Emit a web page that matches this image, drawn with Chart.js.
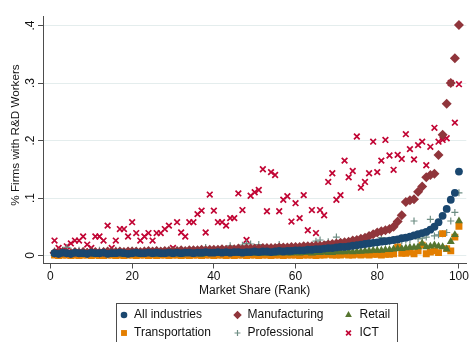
<!DOCTYPE html>
<html>
<head>
<meta charset="utf-8">
<script src="https://cdn.jsdelivr.net/npm/chart.js@4.4.1/dist/chart.umd.min.js"></script>
<style>
  html, body { margin: 0; padding: 0; background: #fff; overflow: hidden; }
  canvas { display: block; }
</style>
</head>
<body>
<canvas id="chart" width="472" height="342"></canvas>
<script>
// Market-share rank of the firm within its industry (x axis)
const ranks = [
  1, 2, 3, 4, 5, 6, 7, 8, 9, 10, 11, 12, 13, 14, 15, 16, 17, 18, 19, 20,
  21, 22, 23, 24, 25, 26, 27, 28, 29, 30, 31, 32, 33, 34, 35, 36, 37, 38, 39, 40,
  41, 42, 43, 44, 45, 46, 47, 48, 49, 50, 51, 52, 53, 54, 55, 56, 57, 58, 59, 60,
  61, 62, 63, 64, 65, 66, 67, 68, 69, 70, 71, 72, 73, 74, 75, 76, 77, 78, 79, 80,
  81, 82, 83, 84, 85, 86, 87, 88, 89, 90, 91, 92, 93, 94, 95, 96, 97, 98, 99, 100
];

// Share of firms employing R&D workers, by rank
const allIndustries = [
  0.004, 0.003, 0.005, 0.004, 0.003, 0.005, 0.004, 0.004, 0.003, 0.005,
  0.004, 0.004, 0.005, 0.003, 0.004, 0.004, 0.005, 0.004, 0.003, 0.004,
  0.005, 0.004, 0.004, 0.005, 0.004, 0.005, 0.004, 0.004, 0.005, 0.004,
  0.005, 0.004, 0.005, 0.005, 0.004, 0.005, 0.005, 0.006, 0.005, 0.005,
  0.006, 0.005, 0.006, 0.005, 0.006, 0.006, 0.005, 0.006, 0.006, 0.007,
  0.006, 0.007, 0.007, 0.006, 0.007, 0.008, 0.007, 0.008, 0.008, 0.009,
  0.009, 0.009, 0.010, 0.010, 0.011, 0.011, 0.012, 0.013, 0.013, 0.014,
  0.015, 0.015, 0.016, 0.017, 0.018, 0.019, 0.020, 0.021, 0.022, 0.023,
  0.024, 0.025, 0.026, 0.027, 0.028, 0.030, 0.031, 0.033, 0.035, 0.037,
  0.039, 0.041, 0.045, 0.050, 0.058, 0.069, 0.081, 0.097, 0.109, 0.146
];

const manufacturing = [
  0.005, 0.004, 0.006, 0.005, 0.004, 0.006, 0.005, 0.006, 0.005, 0.006,
  0.006, 0.005, 0.006, 0.007, 0.006, 0.006, 0.007, 0.006, 0.007, 0.007,
  0.007, 0.006, 0.007, 0.008, 0.007, 0.008, 0.007, 0.008, 0.008, 0.008,
  0.008, 0.009, 0.008, 0.009, 0.009, 0.009, 0.010, 0.009, 0.010, 0.010,
  0.010, 0.011, 0.010, 0.011, 0.011, 0.012, 0.011, 0.012, 0.012, 0.012,
  0.012, 0.013, 0.013, 0.013, 0.013, 0.014, 0.014, 0.014, 0.015, 0.015,
  0.015, 0.016, 0.016, 0.016, 0.017, 0.017, 0.018, 0.019, 0.020, 0.021,
  0.022, 0.023, 0.024, 0.026, 0.027, 0.029, 0.031, 0.034, 0.037, 0.040,
  0.042, 0.044, 0.046, 0.050, 0.059, 0.070, 0.093, 0.096, 0.098, 0.111,
  0.120, 0.136, 0.140, 0.142, 0.175, 0.210, 0.264, 0.300, 0.343, 0.401
];

const retail = [
  0.003, 0.002, 0.003, 0.004, 0.002, 0.003, 0.003, 0.002, 0.004, 0.003,
  0.002, 0.003, 0.003, 0.004, 0.002, 0.003, 0.003, 0.002, 0.003, 0.004,
  0.003, 0.002, 0.003, 0.003, 0.004, 0.002, 0.003, 0.003, 0.004, 0.003,
  0.003, 0.002, 0.004, 0.003, 0.003, 0.004, 0.002, 0.003, 0.004, 0.003,
  0.003, 0.004, 0.003, 0.003, 0.004, 0.003, 0.004, 0.003, 0.004, 0.004,
  0.003, 0.004, 0.004, 0.003, 0.004, 0.004, 0.005, 0.004, 0.004, 0.005,
  0.004, 0.005, 0.005, 0.004, 0.005, 0.005, 0.006, 0.005, 0.005, 0.006,
  0.006, 0.006, 0.007, 0.006, 0.007, 0.007, 0.008, 0.008, 0.009, 0.009,
  0.009, 0.010, 0.010, 0.011, 0.012, 0.012, 0.013, 0.014, 0.014, 0.015,
  0.021, 0.015, 0.016, 0.018, 0.016, 0.015, 0.011, 0.024, 0.036, 0.060
];

const transportation = [
  0.001, 0.000, 0.001, 0.001, 0.000, 0.001, 0.000, 0.001, 0.001, 0.000,
  0.001, 0.000, 0.000, 0.001, 0.001, 0.000, 0.001, 0.000, 0.001, 0.001,
  0.000, 0.001, 0.001, 0.000, 0.001, 0.000, 0.001, 0.001, 0.000, 0.001,
  0.001, 0.000, 0.001, 0.000, 0.001, 0.001, 0.000, 0.001, 0.001, 0.000,
  0.001, 0.001, 0.000, 0.001, 0.000, 0.001, 0.001, 0.000, 0.001, 0.001,
  0.000, 0.001, 0.001, 0.000, 0.001, 0.001, 0.000, 0.001, 0.001, 0.001,
  0.000, 0.001, 0.001, 0.001, 0.000, 0.001, 0.001, 0.002, 0.001, 0.001,
  0.001, 0.002, 0.001, 0.001, 0.002, 0.001, 0.002, 0.001, 0.002, 0.002,
  0.001, 0.002, 0.002, 0.003, 0.015, 0.004, 0.004, 0.006, 0.003, 0.008,
  0.018, 0.003, 0.006, 0.008, 0.005, 0.038, 0.012, 0.008, 0.032, 0.051
];

const professional = [
  0.008, 0.007, 0.009, 0.014, 0.008, 0.007, 0.009, 0.008, 0.007, 0.008,
  0.007, 0.009, 0.008, 0.008, 0.007, 0.009, 0.008, 0.007, 0.008, 0.009,
  0.008, 0.007, 0.009, 0.008, 0.008, 0.009, 0.007, 0.008, 0.009, 0.008,
  0.009, 0.008, 0.008, 0.009, 0.010, 0.009, 0.008, 0.014, 0.009, 0.010,
  0.010, 0.009, 0.011, 0.017, 0.010, 0.011, 0.018, 0.021, 0.020, 0.011,
  0.019, 0.011, 0.012, 0.011, 0.012, 0.019, 0.012, 0.013, 0.012, 0.013,
  0.014, 0.013, 0.014, 0.015, 0.025, 0.027, 0.016, 0.024, 0.017, 0.032,
  0.018, 0.017, 0.019, 0.018, 0.020, 0.019, 0.021, 0.020, 0.022, 0.021,
  0.031, 0.023, 0.024, 0.027, 0.025, 0.026, 0.027, 0.028, 0.060, 0.029,
  0.030, 0.032, 0.063, 0.034, 0.036, 0.038, 0.040, 0.060, 0.075, 0.109
];

const ict = [
  0.026, 0.013, 0.008, 0.016, 0.021, 0.026, 0.026, 0.033, 0.019, 0.013,
  0.033, 0.033, 0.026, 0.052, 0.013, 0.026, 0.046, 0.046, 0.033, 0.058,
  0.039, 0.026, 0.033, 0.039, 0.026, 0.039, 0.039, 0.046, 0.052, 0.013,
  0.058, 0.040, 0.033, 0.058, 0.058, 0.072, 0.078, 0.040, 0.106, 0.078,
  0.058, 0.058, 0.052, 0.065, 0.065, 0.108, 0.079, 0.027, 0.104, 0.110,
  0.114, 0.150, 0.077, 0.145, 0.140, 0.077, 0.097, 0.103, 0.059, 0.091,
  0.065, 0.105, 0.044, 0.079, 0.039, 0.079, 0.070, 0.128, 0.143, 0.097,
  0.105, 0.165, 0.136, 0.147, 0.207, 0.118, 0.128, 0.143, 0.198, 0.145,
  0.165, 0.201, 0.174, 0.149, 0.175, 0.168, 0.211, 0.185, 0.167, 0.192,
  0.198, 0.157, 0.189, 0.222, 0.198, 0.201, 0.204, 0.300, 0.231, 0.298
];

// Axis ticks and titles
const xTicks = [0, 20, 40, 60, 80, 100];
const yTicks = [0, 0.1, 0.2, 0.3, 0.4];
const yTickLabels = ['0', '.1', '.2', '.3', '.4'];
const xTitle = 'Market Share (Rank)';
const yTitle = '% Firms with R&D Workers';

const FONT = '"Liberation Sans", Arial, Helvetica, sans-serif';
const TEXT = '#111111';
const AXIS = '#4d4d4d';

Chart.defaults.font.family = FONT;
Chart.defaults.font.size = 12;
Chart.defaults.color = TEXT;

const toPoints = vals => ranks.map((r, i) => ({ x: r, y: vals[i] }));

function series(label, values, pointStyle, color, radius, borderWidth) {
  return {
    label,
    data: toPoints(values),
    pointStyle,
    pointRadius: radius,
    pointHoverRadius: radius,
    backgroundColor: color,
    borderColor: color,
    borderWidth,
    pointBorderWidth: borderWidth
  };
}

const datasets = [
  series('All industries', allIndustries, 'circle', '#1a476f', 3.9, 0),
  series('Manufacturing', manufacturing, 'rectRot', '#90353b', 5.0, 0),
  series('Retail', retail, 'triangle', '#55752f', 4.6, 0),
  series('Transportation', transportation, 'rect', '#e37e00', 4.9, 0),
  series('Professional', professional, 'cross', '#6e8e84', 3.5, 1.2),
  series('ICT', ict, 'crossRot', '#c10534', 4.0, 1.7)
];

// Rotated y-axis tick labels and title
const yLabelPlugin = {
  id: 'yLabels',
  afterDraw(chart) {
    const { ctx } = chart;
    const ys = chart.scales.y;
    ctx.save();
    ctx.fillStyle = TEXT;
    ctx.font = '12px ' + FONT;
    ctx.textAlign = 'center';
    ctx.textBaseline = 'middle';
    yTicks.forEach((v, i) => {
      const py = ys.getPixelForValue(v);
      ctx.save();
      ctx.translate(ys.right - 12.5, py);
      ctx.rotate(-Math.PI / 2);
      ctx.fillText(yTickLabels[i], 0, 0);
      ctx.restore();
    });
    ctx.font = '11.7px ' + FONT;
    ctx.translate(15.5, 135);
    ctx.rotate(-Math.PI / 2);
    ctx.fillText(yTitle, 0, 0);
    ctx.restore();
  }
};

// Boxed legend below the plot: three columns, two rows
const gridLegendPlugin = {
  id: 'gridLegend',
  afterDraw(chart) {
    const { ctx } = chart;
    const colX = [124, 237.5, 348.5];
    const rowY = [315, 333];
    ctx.save();
    ctx.strokeStyle = AXIS;
    ctx.lineWidth = 1;
    ctx.strokeRect(116.5, 303.5, 281, 50);
    chart.data.datasets.forEach((ds, i) => {
      const x = colX[i % 3];
      const y = rowY[Math.floor(i / 3)];
      ctx.fillStyle = ds.backgroundColor;
      ctx.strokeStyle = ds.borderColor;
      ctx.lineWidth = ds.borderWidth;
      Chart.helpers.drawPoint(ctx, {
        pointStyle: ds.pointStyle,
        radius: ds.pointRadius * 0.85,
        borderWidth: ds.borderWidth,
        rotation: 0
      }, x, y);
      ctx.fillStyle = TEXT;
      ctx.font = '12px ' + FONT;
      ctx.textAlign = 'left';
      ctx.textBaseline = 'middle';
      ctx.fillText(ds.label, x + (i % 3 === 2 ? 11 : 10), y);
    });
    ctx.restore();
  }
};

new Chart(document.getElementById('chart'), {
  type: 'scatter',
  data: { datasets },
  options: {
    responsive: false,
    animation: false,
    devicePixelRatio: 1,
    layout: { padding: { left: 0, right: 2, top: 16.7, bottom: 42.5 } },
    plugins: {
      legend: { display: false },
      tooltip: { enabled: false }
    },
    scales: {
      x: {
        type: 'linear',
        min: -1.82,
        max: 101.8,
        afterBuildTicks: s => { s.ticks = xTicks.map(v => ({ value: v })); },
        afterFit: s => { s.height = 36; s.paddingLeft = 0; s.paddingRight = 0; },
        ticks: { padding: 1, color: TEXT, font: { size: 12 }, maxRotation: 0, autoSkip: false },
        grid: { drawOnChartArea: false, drawTicks: true, tickLength: 5, tickColor: AXIS, tickWidth: 1 },
        border: { display: true, color: AXIS, width: 1 },
        title: {
          display: true,
          text: xTitle,
          color: TEXT,
          font: { size: 12 },
          padding: { top: 0, bottom: 2 }
        }
      },
      y: {
        type: 'linear',
        min: -0.0139,
        max: 0.4153,
        afterBuildTicks: s => { s.ticks = yTicks.map(v => ({ value: v })); },
        afterFit: s => { s.width = 43; s.paddingTop = 0; s.paddingBottom = 0; },
        ticks: { display: false },
        grid: { color: '#e4eded', lineWidth: 1, drawTicks: true, tickLength: 5, tickColor: AXIS, tickWidth: 1 },
        border: { display: true, color: AXIS, width: 1 },
        title: { display: false }
      }
    }
  },
  plugins: [yLabelPlugin, gridLegendPlugin]
});
</script>
</body>
</html>
